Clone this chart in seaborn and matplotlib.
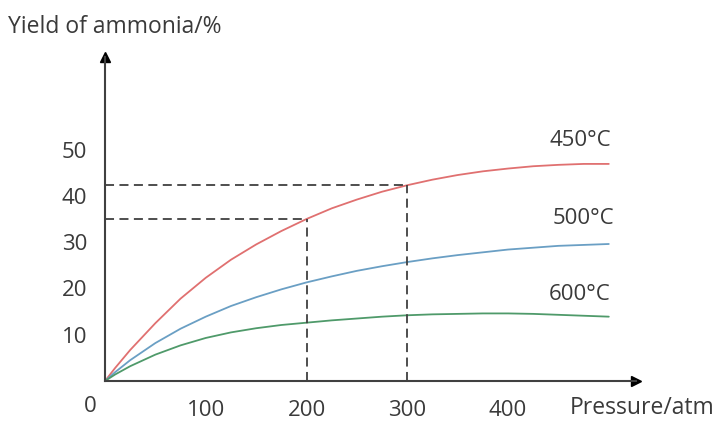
import matplotlib
matplotlib.use("Agg")
import matplotlib.pyplot as plt
import seaborn as sns
import pandas as pd

pressure = [0, 10, 25, 50, 75, 100, 125, 150, 175, 200, 225, 250, 275, 300,
            325, 350, 375, 400, 425, 450, 475, 500]
yield_450 = [0, 2.8, 6.7, 12.5, 17.8, 22.3, 26.2, 29.5, 32.4, 35.0, 37.3, 39.2,
             40.9, 42.3, 43.5, 44.5, 45.3, 45.9, 46.4, 46.7, 46.9, 46.9]
yield_500 = [0, 1.9, 4.5, 8.2, 11.3, 13.9, 16.2, 18.1, 19.8, 21.3, 22.6, 23.8,
             24.8, 25.7, 26.5, 27.2, 27.8, 28.4, 28.8, 29.2, 29.4, 29.6]
yield_600 = [0, 1.4, 3.2, 5.7, 7.7, 9.3, 10.5, 11.4, 12.1, 12.6, 13.1, 13.5,
             13.9, 14.2, 14.4, 14.5, 14.6, 14.6, 14.5, 14.3, 14.1, 13.9]
series_labels = ["450°C", "500°C", "600°C"]
x_ticks = [100, 200, 300, 400]
y_ticks = [10, 20, 30, 40, 50]
guide_pressures = [200, 300]
guide_yields = [35.0, 42.3]

sns.set_style("white")
plt.rcParams['font.family'] = ['Open Sans', 'DejaVu Sans']
text_color = "#3a3a3a"

n = len(pressure)
df = pd.DataFrame({
    "pressure": pressure * 3,
    "yield": yield_450 + yield_500 + yield_600,
    "temp": [series_labels[0]] * n + [series_labels[1]] * n + [series_labels[2]] * n,
})
colors = {"450°C": "#e07070", "500°C": "#6a9fc4", "600°C": "#4f9a6a"}

fig = plt.figure(figsize=(7.2, 4.34), dpi=100)
ax = fig.add_axes([105 / 720, 1 - 381 / 434, (636 - 105) / 720, (381 - 57) / 434])

sns.lineplot(data=df, x="pressure", y="yield", hue="temp", palette=colors,
             linewidth=1.3, legend=False, ax=ax)

# dashed guides
for p, y in zip(guide_pressures, guide_yields):
    ax.plot([0, p], [y, y], ls=(0, (5, 3)), color="#404040", lw=1.3)
    ax.plot([p, p], [0, y], ls=(0, (5, 3)), color="#404040", lw=1.3)

ax.set_xlim(0, 527)
ax.set_ylim(0, 70)
ax.set_xticks(x_ticks)
ax.set_yticks(y_ticks)
ax.tick_params(direction="inout", length=11.5, width=1.3, color="#404040",
               labelsize=16, labelcolor=text_color)
ax.tick_params(axis="x", pad=8)
ax.tick_params(axis="y", pad=7)
ax.set_xlabel("")
ax.set_ylabel("")
for s in ["top", "right"]:
    ax.spines[s].set_visible(False)
for s in ["left", "bottom"]:
    ax.spines[s].set_color("#404040")
    ax.spines[s].set_linewidth(1.5)

# arrows
ax.plot(1, 0, marker=">", color="black", markersize=7, transform=ax.transAxes, clip_on=False)
ax.plot(0, 1, marker="^", color="black", markersize=7, transform=ax.transAxes, clip_on=False)

# labels
ax.text(-0.015, -0.045, "0", transform=ax.transAxes, ha="right", va="top",
        fontsize=16, color=text_color)
fig.text(570 / 720, 1 - 408 / 434, "Pressure/atm", ha="left", va="center",
         fontsize=16.5, color=text_color)
fig.text(8 / 720, 1 - 27 / 434, "Yield of ammonia/%", ha="left", va="center",
         fontsize=16.5, color=text_color)

label_pos = [(611, 140), (614, 218), (611, 295)]
for lab, (px, py) in zip(series_labels, label_pos):
    fig.text(px / 720, 1 - py / 434, lab, ha="right", va="center",
             fontsize=16, color=text_color)

fig.savefig("out.png", dpi=100)
